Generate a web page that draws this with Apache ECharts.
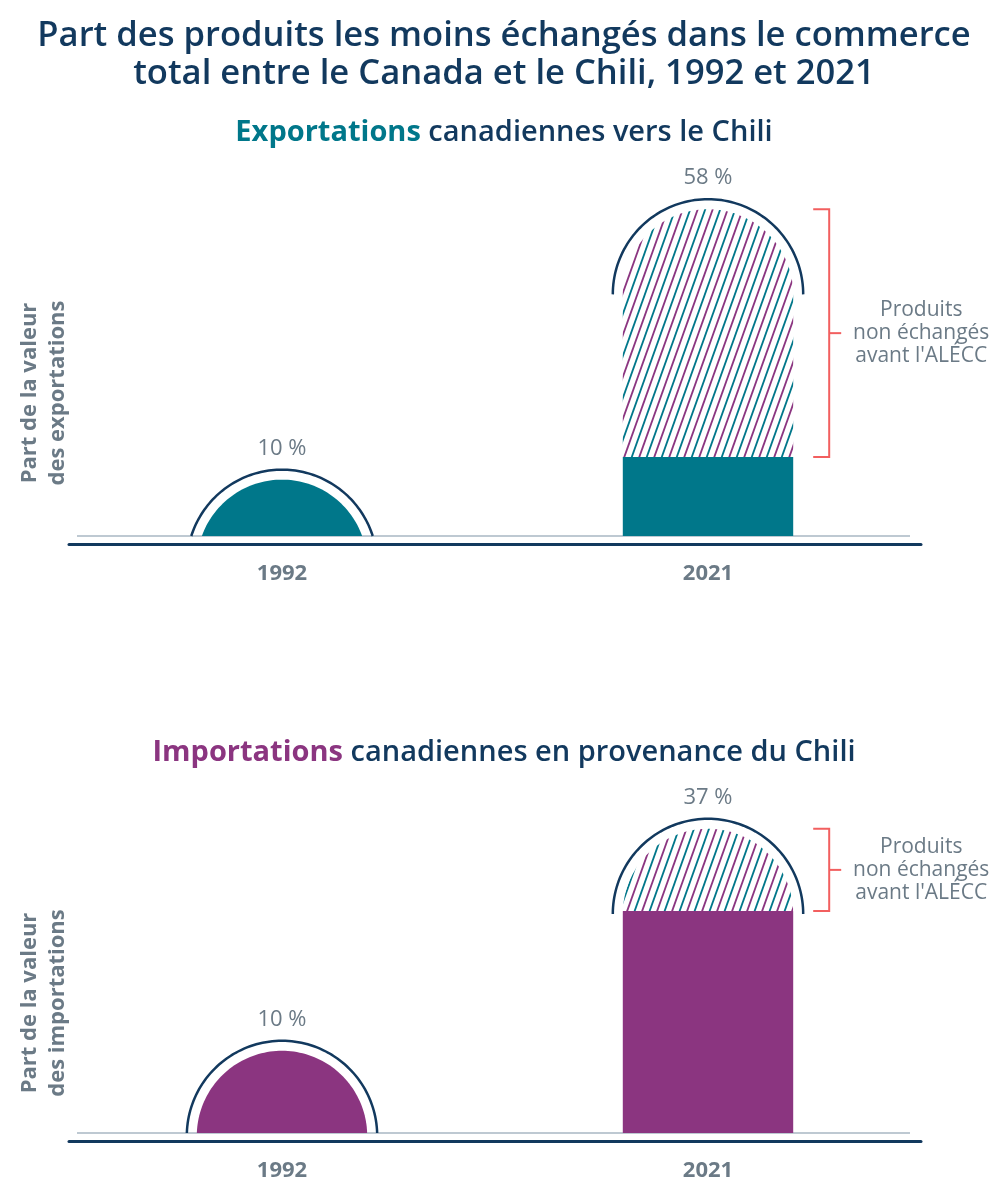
<!DOCTYPE html>
<html><head><meta charset="utf-8">
<script src="https://cdn.jsdelivr.net/npm/echarts@6/dist/echarts.min.js"></script>
<style>html,body{margin:0;padding:0;background:#fff}#c{width:1008px;height:1191px}</style>
</head><body><div id="c"></div>
<script>
// ---- data ----
const categories = ['1992', '2021'];
const exportTraded = [10, 14];       // share already traded before the FTA
const exportNewlyTraded = [0, 44];   // products not traded before CCFTA (hatched)
const importTraded = [10, 27];
const importNewlyTraded = [0, 10];
const noteText = "Produits\nnon échangés\navant l'ALÉCC";
const titleText = 'Part des produits les moins échangés dans le commerce\ntotal entre le Canada et le Chili, 1992 et 2021';

// ---- styles ----
const FONT = '"Open Sans", "Noto Sans", sans-serif';
const NAVY = '#12395e', TEAL = '#00778a', PURPLE = '#8b3580', GRAY = '#6b7a86', RED = '#f25f5f', LINE = '#a9b7c3';

function makePattern() {
  const W = 15, H = 42;
  const c = document.createElement('canvas'); c.width = W; c.height = H;
  const g = c.getContext('2d');
  g.lineWidth = 1.8;
  [[TEAL, 0], [PURPLE, W / 2]].forEach(([col, o]) => {
    g.strokeStyle = col;
    for (let k = -1; k <= 1; k++) {
      g.beginPath();
      g.moveTo(o + k * W - W * 0.1, H * 1.1);
      g.lineTo(o + k * W + W * 1.1, -H * 0.1);
      g.stroke();
    }
  });
  return c;
}
const pattern = { image: makePattern(), repeat: 'repeat' };

function clipHalf(pts, keep, yLine) {
  const out = [];
  for (let i = 0; i < pts.length; i++) {
    const a = pts[i], b = pts[(i + 1) % pts.length];
    const ia = keep(a[1]), ib = keep(b[1]);
    if (ia) out.push(a);
    if (ia !== ib) {
      const t = (yLine - a[1]) / (b[1] - a[1]);
      out.push([a[0] + t * (b[0] - a[0]), yLine]);
    }
  }
  return out;
}
function slab(cx, cy, w, yb, y1, y2) {
  const pts = [];
  const N = 90;
  for (let i = 0; i <= N; i++) {
    const th = Math.PI - Math.PI * i / N;
    pts.push([cx + w * Math.cos(th), cy - w * Math.sin(th)]);
  }
  const yBig = Math.max(cy, yb) + 2;
  pts.push([cx + w, yBig]); pts.push([cx - w, yBig]);
  let p = clipHalf(pts, y => y >= y1, y1);
  p = clipHalf(p, y => y <= y2, y2);
  return p;
}

function makeRender(solidColor) {
  return function (params, api) {
    const idx = api.value(0), solid = api.value(1), extra = api.value(2);
    const total = solid + extra;
    const base = api.coord([idx, 0]);
    const cx = base[0], yb = base[1];
    const yTop = api.coord([idx, total])[1];
    const ySplit = api.coord([idx, solid])[1];
    const w = api.size([1, 0])[0] * 0.2;
    const cy = yTop + w;
    const children = [];
    children.push({ type: 'polygon', shape: { points: slab(cx, cy, w, yb, ySplit, yb) }, style: { fill: solidColor } });
    if (extra > 0) {
      children.push({ type: 'polygon', shape: { points: slab(cx, cy, w, yb, yTop, ySplit) }, style: { fill: pattern } });
      const x0 = cx + w + 20, x1 = cx + w + 36, ym = (yTop + ySplit) / 2;
      children.push({ type: 'polyline', shape: { points: [[x0, yTop], [x1, yTop], [x1, ySplit], [x0, ySplit]] }, style: { stroke: RED, lineWidth: 2, fill: null } });
      children.push({ type: 'line', shape: { x1: x1, y1: ym, x2: x1 + 12, y2: ym }, style: { stroke: RED, lineWidth: 2 } });
      children.push({ type: 'text', style: { x: x1 + 92, y: ym, text: noteText, align: 'center', verticalAlign: 'middle', fontSize: 21, lineHeight: 23, fill: GRAY, fontFamily: FONT } });
    }
    // outline arc
    const R = w + 10;
    let th0 = 0;
    if (cy > yb) th0 = Math.asin(Math.min(1, (cy - yb) / R));
    const arc = [];
    const M = 90;
    for (let i = 0; i <= M; i++) {
      const th = Math.PI - th0 - (Math.PI - 2 * th0) * i / M;
      arc.push([cx + R * Math.cos(th), cy - R * Math.sin(th)]);
    }
    children.push({ type: 'polyline', shape: { points: arc }, style: { stroke: NAVY, lineWidth: 2.5, fill: null } });
    children.push({ type: 'text', style: { x: cx, y: cy - R - 21, text: total + ' %', align: 'center', verticalAlign: 'middle', fontSize: 22, fill: GRAY, fontFamily: FONT } });
    return { type: 'group', children: children };
  };
}

const grids = [
  { left: 69, right: 87, top: 181, height: 355 },
  { left: 69, right: 87, top: 763, height: 370 }
];
const yMax = [63, 45];

const chart = echarts.init(document.getElementById('c'));
const xAxisBase = (gi) => ({
  type: 'category', gridIndex: gi, data: categories, offset: 8,
  axisLine: { onZero: false, lineStyle: { color: NAVY, width: 3 } },
  axisTick: { show: false },
  axisLabel: { fontSize: 22, fontWeight: 'bold', color: GRAY, margin: 19, fontFamily: FONT }
});
const yAxisBase = (gi) => ({
  type: 'value', gridIndex: gi, min: 0, max: yMax[gi],
  axisLine: { show: false }, axisTick: { show: false }, axisLabel: { show: false }, splitLine: { show: false }
});
const rich = (c) => ({
  a: { fontSize: 29, lineHeight: 34, fontWeight: 'bold', color: c, fontFamily: FONT },
  b: { fontSize: 29, lineHeight: 34, fontWeight: 600, color: NAVY, fontFamily: FONT }
});

chart.setOption({
  animation: false,
  textStyle: { fontFamily: FONT },
  title: [
    { text: titleText, left: 'center', top: 12, textStyle: { fontSize: 34.6, fontWeight: 600, color: NAVY, lineHeight: 38, fontFamily: FONT } },
    { text: '{a|Exportations}{b| canadiennes vers le Chili}', left: 'center', top: 111, textStyle: { rich: rich(TEAL) } },
    { text: '{a|Importations}{b| canadiennes en provenance du Chili}', left: 'center', top: 731, textStyle: { rich: rich(PURPLE) } }
  ],
  grid: grids,
  xAxis: [xAxisBase(0), xAxisBase(1)],
  yAxis: [yAxisBase(0), yAxisBase(1)],
  graphic: [
    { type: 'line', z: 0, shape: { x1: 77, y1: 536, x2: 910, y2: 536 }, style: { stroke: LINE, lineWidth: 1.5 } },
    { type: 'line', z: 0, shape: { x1: 77, y1: 1133, x2: 910, y2: 1133 }, style: { stroke: LINE, lineWidth: 1.5 } },
    { type: 'text', x: 44, y: 393, rotation: Math.PI / 2, style: { text: 'Part de la valeur\ndes exportations', textAlign: 'center', textVerticalAlign: 'middle', align: 'center', verticalAlign: 'middle', fontSize: 22, fontWeight: 'bold', lineHeight: 28, fill: GRAY, fontFamily: FONT } },
    { type: 'text', x: 44, y: 1003, rotation: Math.PI / 2, style: { text: 'Part de la valeur\ndes importations', textAlign: 'center', textVerticalAlign: 'middle', align: 'center', verticalAlign: 'middle', fontSize: 22, fontWeight: 'bold', lineHeight: 28, fill: GRAY, fontFamily: FONT } }
  ],
  series: [
    { type: 'custom', xAxisIndex: 0, yAxisIndex: 0, renderItem: makeRender(TEAL), encode: { x: 0, y: [1, 2] },
      data: categories.map((c, i) => [i, exportTraded[i], exportNewlyTraded[i]]) },
    { type: 'custom', xAxisIndex: 1, yAxisIndex: 1, renderItem: makeRender(PURPLE), encode: { x: 0, y: [1, 2] },
      data: categories.map((c, i) => [i, importTraded[i], importNewlyTraded[i]]) }
  ]
});
</script></body></html>
